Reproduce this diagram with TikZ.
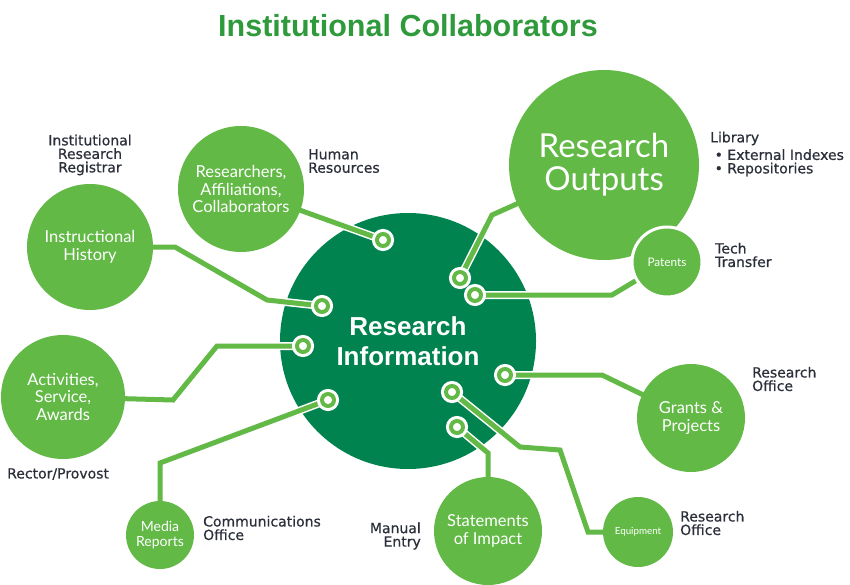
\documentclass[tikz,border=0pt]{standalone}
\usepackage{fontspec}
\setmainfont{Lato}
\newfontfamily\labfont[FakeBold=0.7]{DejaVu Sans}
\newfontfamily\headfont{Liberation Sans}
\definecolor{lg}{HTML}{62B946}
\definecolor{dg}{HTML}{00834F}
\definecolor{tg}{HTML}{2E9A3C}
\definecolor{tx}{HTML}{2B2F3A}
\pgfdeclarelayer{back}\pgfdeclarelayer{mid}
\pgfsetlayers{back,mid,main}
\begin{document}
\begin{tikzpicture}[x=1pt,y=-1pt,
  bub/.style={circle,fill=lg,text=white,inner sep=0pt,minimum size=#1,align=center},
  core/.style={circle,fill=dg,text=white,inner sep=0pt,minimum size=#1,align=center},
  dotn/.style={circle,fill=white,draw=lg,line width=4pt,minimum size=12pt,inner sep=0pt,
     preaction={draw=white,line width=10pt}},
  wire/.style={draw=lg,line width=5pt,preaction={draw=white,line width=8pt}},
  lab/.style={text=tx,inner sep=0pt,font=\labfont\fontsize{14}{13.5}\selectfont},
  ctext/.style={font=\fontsize{16.5}{17.5}\selectfont}
]
\useasboundingbox (0,0) rectangle (850,585);

% title
\node[text=tg,font=\headfont\fontsize{30.5}{34}\bfseries\selectfont,inner sep=0pt] (title) at (408,26) {Institutional Collaborators};

% core
\begin{pgfonlayer}{back}
\node[core=256pt,font=\headfont\fontsize{26}{30}\bfseries\selectfont] (ri) at (408,341) {Research\\Information};
\end{pgfonlayer}

% bubbles
\node[bub=126pt,ctext] (res) at (241,189) {Researchers,\\Affiliations,\\Collaborators};
\node[bub=126pt,ctext] (ins) at (90,247) {Instructional\\History};
\node[bub=124pt,ctext] (act) at (63,397) {Activities,\\Service,\\Awards};
\node[bub=68pt,font=\fontsize{14}{14.5}\selectfont] (med) at (160,535) {Media\\Reports};
\node[bub=108pt,font=\fontsize{16.5}{18}\selectfont] (st) at (488,531) {Statements\\of Impact};
\node[bub=108pt,ctext] (gr) at (691,418) {Grants \&\\Projects};
\node[bub=70pt,font=\fontsize{9.8}{11}\selectfont] (eq) at (638,532) {Equipment};
\node[bub=190pt,font=\fontsize{33}{33}\selectfont] (out) at (604,165) {Research\\Outputs};
\node[bub=70pt,draw=white,line width=3pt,font=\fontsize{11.8}{12}\selectfont] (pat) at (667,262) {Patents};

% terminals
\node[dotn] (dres) at (383,240) {};
\node[dotn] (dins) at (322,306) {};
\node[dotn] (dact) at (303,346) {};
\node[dotn] (dmed) at (328,400) {};
\node[dotn] (dout) at (460,278) {};
\node[dotn] (dpat) at (475,295) {};
\node[dotn] (dgr) at (505,375) {};
\node[dotn] (deq) at (452,392) {};
\node[dotn] (dst) at (457,427) {};

% connectors
\begin{pgfonlayer}{mid}
\draw[wire] (res.center) -- (dres.center);
\draw[wire] (ins.center) -- (175,247) -- (267,300) -- (dins.center);
\draw[wire] (act.center) -- (173,400) -- (217,346) -- (dact.center);
\draw[wire] (dmed.center) -- (160,463) -- (med.center);
\draw[wire] (dout.center) -- (492,215) -- (out.center);
\draw[wire] (dpat.center) -- (612,295) -- (pat.center);
\draw[wire] (dgr.center) -- (602,375) -- (gr.center);
\draw[wire] (deq.center) -- (520,447) -- (560,450) -- (588,532) -- (eq.center);
\draw[wire] (dst.center) -- (488,453) -- (st.center);
\end{pgfonlayer}

% labels
\node[lab,align=center] (l1) at (90,155) {Institutional\\Research\\Registrar};
\node[lab,align=left,anchor=west] (l2) at (308,161) {Human\\Resources};
\node[lab,align=left,anchor=west] (l3) at (710,154) {Library\\[3pt]\ \textbullet\ External Indexes\\\ \textbullet\ Repositories};
\node[lab,align=left,anchor=west] (l4) at (715,255) {Tech\\Transfer};
\node[lab,align=left,anchor=west] (l5) at (7,474) {Rector/Provost};
\node[lab,align=left,anchor=west] (l6) at (203,528) {Communications\\Office};
\node[lab,align=right,anchor=east] (l7) at (421,536) {Manual\\Entry};
\node[lab,align=left,anchor=west] (l8) at (752,379) {Research\\Office};
\node[lab,align=left,anchor=west] (l9) at (680,523) {Research\\Office};
\end{tikzpicture}
\end{document}
